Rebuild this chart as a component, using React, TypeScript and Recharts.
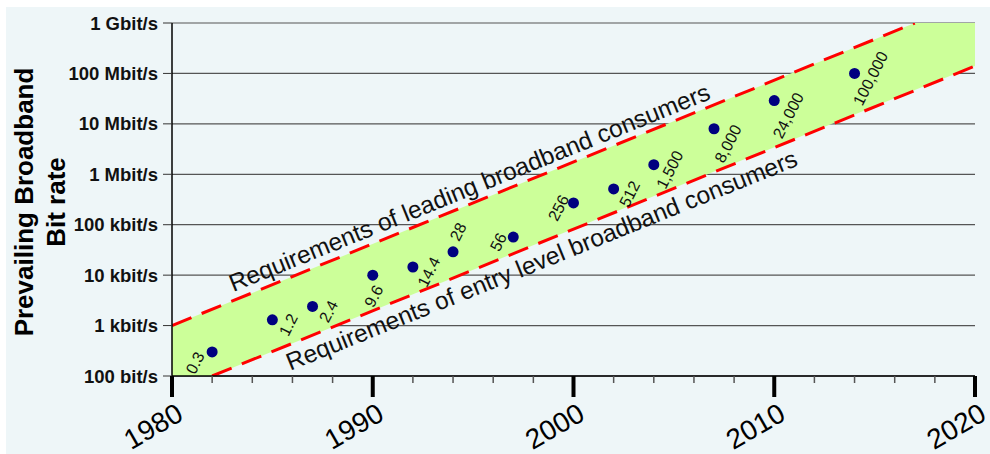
import React from 'react'
import { ComposedChart, Area, Line, Scatter, XAxis, YAxis, CartesianGrid } from 'recharts'

// modem / broadband milestones, y in bit/s
const years = [1982, 1985, 1987, 1990, 1992, 1994, 1997, 2000, 2002, 2004, 2007, 2010, 2014]
const rates = [300, 1300, 2400, 10000, 14500, 29000, 57000, 270000, 512000, 1550000, 8000000, 29000000, 100000000]
const rateLabels = ['0.3', '1.2', '2.4', '9.6', '14.4', '28', '56', '256', '512', '1,500', '8,000', '24,000', '100,000']
const labelSide = ['lowerLeft', 'right', 'right', 'below', 'right', 'above', 'left', 'left', 'right', 'right', 'lowerRight', 'lowerRight', 'right']

const yTicks = [1e2, 1e3, 1e4, 1e5, 1e6, 1e7, 1e8, 1e9]
const yTickLabels = ['100 bit/s', '1 kbit/s', '10 kbit/s', '100 kbit/s', '1 Mbit/s', '10 Mbit/s', '100 Mbit/s', '1 Gbit/s']
const xTicks = [1980, 1982, 1984, 1986, 1988, 1990, 1992, 1994, 1996, 1998, 2000, 2002, 2004, 2006, 2008, 2010, 2012, 2014, 2016, 2018, 2020]

// band edges
const leadingLine = [{ year: 1980, v: 1000 }, { year: 2017, v: 1e9 }]
const entryLine = [{ year: 1982, v: 100 }, { year: 2020, v: 1.4e8 }]
const bandYears = [1980, 1982, 2017, 2020]
const bandLow = [100, 100, 4.7e7, 1.4e8]
const bandHigh = [1000, 2100, 1e9, 1e9]

const notes = [
  { year: 1995.1, v: 285000, text: 'Requirements of leading broadband consumers', id: 'lead' },
  { year: 1998.1, v: 40000, text: 'Requirements of entry level broadband consumers', id: 'entry' },
]

const points = years.map((year, i) => ({ year, v: rates[i], label: rateLabels[i], side: labelSide[i] }))
const band = bandYears.map((year, i) => ({ year, band: [bandLow[i], bandHigh[i]] }))

const FONT = '"Liberation Sans", Arial, sans-serif'

const sideOffset: Record<string, [number, number]> = {
  lowerLeft: [-17, 11],
  right: [16, 5],
  below: [1, 21],
  above: [5, -20],
  left: [-15, 5],
  lowerRight: [14, 15],
}
const noteShift: Record<string, number> = { lead: -7, entry: 25 }

const DotWithLabel = (props: any) => {
  const { cx, cy, payload } = props
  const [dx, dy] = sideOffset[payload.side]
  return (
    <g>
      <circle cx={cx} cy={cy} r={5.5} fill="#000080" />
      <text
        transform={`translate(${cx + dx},${cy + dy}) rotate(-63)`}
        textAnchor="middle"
        dominantBaseline="central"
        fontSize={16}
        fontFamily={FONT}
        fill="#111"
      >
        {payload.label}
      </text>
    </g>
  )
}

const Note = (props: any) => {
  const { cx, cy, payload } = props
  return (
    <text
      transform={`translate(${cx},${cy}) rotate(-22) translate(0,${noteShift[payload.id]})`}
      textAnchor="middle"
      fontSize={24.5}
      fontFamily={FONT}
      fill="#111"
    >
      {payload.text}
    </text>
  )
}

const XTick = (props: any) => {
  const { x, y, payload } = props
  const major = payload.value % 10 === 0
  if (!major) return <line x1={x} y1={y} x2={x} y2={y + 7} stroke="#555" strokeWidth={1.5} />
  return (
    <g>
      <line x1={x} y1={y} x2={x} y2={y + 21} stroke="#000" strokeWidth={4} />
      <text
        transform={`translate(${x + 13},${y + 43}) rotate(-30)`}
        textAnchor="end"
        fontSize={28}
        fontFamily={FONT}
        fill="#000"
      >
        {payload.value}
      </text>
    </g>
  )
}

const YTick = (props: any) => {
  const { x, y, payload } = props
  const i = yTicks.indexOf(payload.value)
  return (
    <text x={x} y={y} textAnchor="end" dominantBaseline="central" fontSize={18.5} fontWeight="bold" fontFamily={FONT} fill="#111">
      {yTickLabels[i]}
    </text>
  )
}

const YTitle = () => (
  <g fontFamily={FONT} fontWeight="bold" fontSize={26} fill="#000">
    <text transform="translate(33,202) rotate(-90)" textAnchor="middle">Prevailing Broadband</text>
    <text transform="translate(65,202) rotate(-90)" textAnchor="middle">Bit rate</text>
  </g>
)

export default function App() {
  return (
    <div style={{ position: 'relative', width: 990, height: 454, background: '#fff', overflow: 'hidden' }}>
      <style>{'body{margin:0}'}</style>
      <div style={{ position: 'absolute', left: 6, top: 7, right: 0, bottom: 0, background: '#eef6f8' }} />
      <div style={{ position: 'absolute', left: 0, top: 0 }}>
        <ComposedChart width={990} height={454} margin={{ top: 23, right: 15, left: 0, bottom: 0 }}>
          <XAxis
            type="number"
            dataKey="year"
            domain={[1980, 2020]}
            ticks={xTicks}
            interval={0}
            allowDataOverflow
            height={78}
            tickSize={0}
            tickMargin={0}
            tickLine={false}
            axisLine={{ stroke: '#000', strokeWidth: 1.5 }}
            tick={<XTick />}
          />
          <YAxis
            scale="log"
            domain={[100, 1e9]}
            ticks={yTicks}
            interval={0}
            allowDataOverflow
            width={172}
            tickSize={9}
            tickMargin={5}
            tickLine={{ stroke: '#333' }}
            axisLine={{ stroke: '#000', strokeWidth: 1.5 }}
            tick={<YTick />}
            label={YTitle}
          />
          <Area data={band} dataKey="band" stroke="none" fill="#ccff99" fillOpacity={1} isAnimationActive={false} />
          <CartesianGrid vertical={false} stroke="#555" strokeWidth={1.2} />
          <Line data={leadingLine} dataKey="v" stroke="#ff0000" strokeWidth={3} strokeDasharray="21 11" dot={false} isAnimationActive={false} />
          <Line data={entryLine} dataKey="v" stroke="#ff0000" strokeWidth={3} strokeDasharray="21 11" dot={false} isAnimationActive={false} />
          <Scatter data={points} dataKey="v" shape={<DotWithLabel />} isAnimationActive={false} />
          <Scatter data={notes} dataKey="v" shape={<Note />} isAnimationActive={false} />
        </ComposedChart>
      </div>
    </div>
  )
}
